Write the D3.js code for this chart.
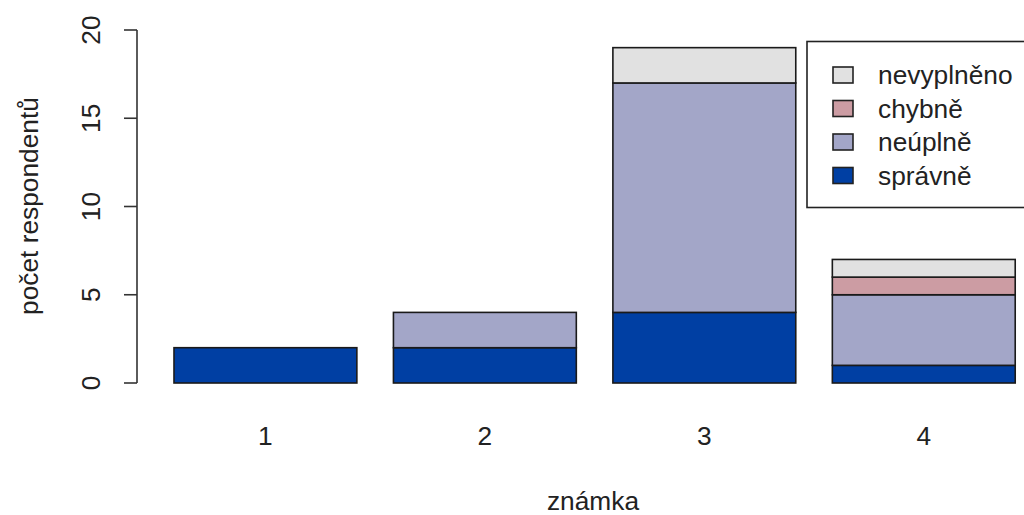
<!DOCTYPE html>
<html>
<head>
<meta charset="utf-8">
<script src="https://cdn.jsdelivr.net/npm/d3@7"></script>
<style>
  html, body { margin: 0; padding: 0; background: #fff; }
  svg { display: block; font-family: "Liberation Sans", Arial, sans-serif; }
</style>
</head>
<body>
<svg id="chart" width="1024" height="515"></svg>
<script>
// grades on the x axis
const categories = ["1", "2", "3", "4"];
// answer types, stacked bottom to top
const series = ["správně", "neúplně", "chybně", "nevyplněno"];
const colors = ["#003fa3", "#a3a6c8", "#cc9ca3", "#e1e1e1"];
// counts per grade for each answer type
const spravne    = [2, 2, 4, 1];
const neuplne    = [0, 2, 13, 4];
const chybne     = [0, 0, 0, 1];
const nevyplneno = [0, 0, 2, 1];
const yTicks = [0, 5, 10, 15, 20];

const values = [spravne, neuplne, chybne, nevyplneno];
const rows = categories.map((c, i) => {
  const r = { cat: c };
  series.forEach((s, k) => { r[s] = values[k][i]; });
  return r;
});

const svg = d3.select("#chart");
const FS = 26.3;

const x = d3.scaleBand()
  .domain(categories)
  .range([155.7, 1033.5])
  .paddingInner(1 / 6)
  .paddingOuter(1 / 12);

const y = d3.scaleLinear().domain([0, 20]).range([383, 30]);

const stacked = d3.stack().keys(series)(rows);

const layers = svg.append("g")
  .selectAll("g")
  .data(stacked)
  .join("g")
  .attr("fill", (d, i) => colors[i]);

layers.selectAll("rect")
  .data(d => d.filter(p => p[1] - p[0] > 0))
  .join("rect")
  .attr("x", d => x(d.data.cat))
  .attr("width", x.bandwidth())
  .attr("y", d => y(d[1]))
  .attr("height", d => y(d[0]) - y(d[1]))
  .attr("stroke", "#1a1a1a")
  .attr("stroke-width", 1.6);

// y axis
const yAxis = svg.append("g").attr("transform", "translate(137,0)");
yAxis.append("line")
  .attr("x1", 0).attr("x2", 0)
  .attr("y1", y(0)).attr("y2", y(20))
  .attr("stroke", "#333").attr("stroke-width", 1.6);
yAxis.selectAll("line.tick")
  .data(yTicks)
  .join("line")
  .attr("class", "tick")
  .attr("x1", -13).attr("x2", 0)
  .attr("y1", d => y(d)).attr("y2", d => y(d))
  .attr("stroke", "#333").attr("stroke-width", 1.6);
yAxis.selectAll("text")
  .data(yTicks)
  .join("text")
  .attr("transform", d => `translate(-37,${y(d)}) rotate(-90)`)
  .attr("text-anchor", "middle")
  .attr("font-size", FS)
  .attr("fill", "#222")
  .text(d => d);

// x category labels
svg.append("g")
  .selectAll("text")
  .data(categories)
  .join("text")
  .attr("x", d => x(d) + x.bandwidth() / 2)
  .attr("y", 445)
  .attr("text-anchor", "middle")
  .attr("font-size", FS)
  .attr("fill", "#222")
  .text(d => d);

// axis titles
svg.append("text")
  .attr("x", 593).attr("y", 510)
  .attr("text-anchor", "middle")
  .attr("font-size", FS)
  .attr("fill", "#222")
  .text("známka");

svg.append("text")
  .attr("transform", "translate(38,206) rotate(-90)")
  .attr("text-anchor", "middle")
  .attr("font-size", FS)
  .attr("fill", "#222")
  .text("počet respondentů");

// legend
const legend = svg.append("g");
legend.append("rect")
  .attr("x", 807).attr("y", 41.5)
  .attr("width", 230).attr("height", 166)
  .attr("fill", "#fff")
  .attr("stroke", "#222").attr("stroke-width", 1.6);

const legendItems = series.map((s, i) => ({ name: s, color: colors[i] })).reverse();
const item = legend.selectAll("g.item")
  .data(legendItems)
  .join("g")
  .attr("class", "item")
  .attr("transform", (d, i) => `translate(0,${75 + i * 33.5})`);
item.append("rect")
  .attr("x", 833).attr("y", -8)
  .attr("width", 20).attr("height", 16)
  .attr("fill", d => d.color)
  .attr("stroke", "#222").attr("stroke-width", 1.6);
item.append("text")
  .attr("x", 878).attr("y", 9)
  .attr("font-size", FS)
  .attr("fill", "#222")
  .text(d => d.name);
</script>
</body>
</html>
